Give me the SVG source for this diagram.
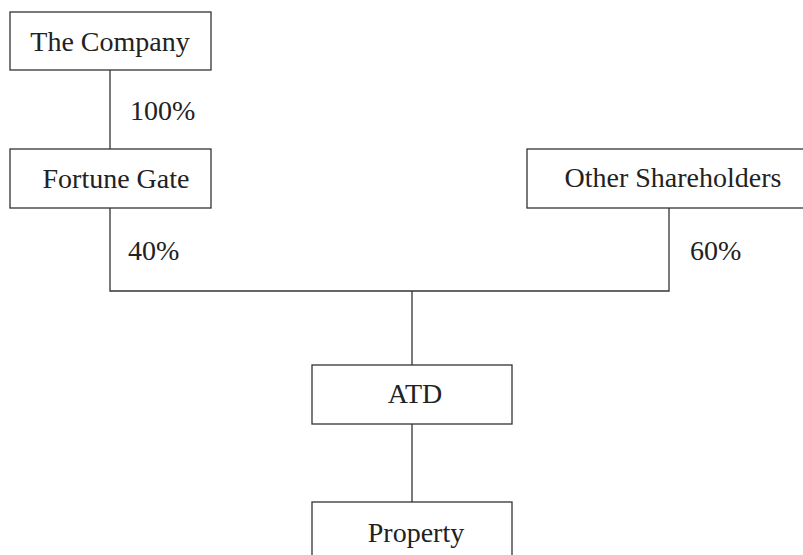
<svg xmlns="http://www.w3.org/2000/svg" width="803" height="555" viewBox="0 0 803 555">
<style>
.box{fill:#fff;stroke:#333;stroke-width:1.3}
.ln{fill:none;stroke:#333;stroke-width:1.3}
text{font-family:"Liberation Serif","Times New Roman",serif;font-size:28px;fill:#222}
.c{text-anchor:middle}
</style>
<rect width="803" height="555" fill="#fff"/>
<g id="connectors">
<line class="ln" x1="110" y1="70" x2="110" y2="149"/>
<polyline class="ln" points="110,208 110,291 669,291 669,208"/>
<line class="ln" x1="412" y1="291" x2="412" y2="365"/>
<line class="ln" x1="412" y1="424" x2="412" y2="502"/>
<text x="130" y="120">100%</text>
<text x="128" y="260">40%</text>
<text x="690" y="260">60%</text>
</g>
<g id="the-company">
<rect class="box" x="10" y="12" width="201" height="58"/>
<text class="c" x="110" y="51">The Company</text>
</g>
<g id="fortune-gate">
<rect class="box" x="10" y="149" width="201" height="59"/>
<text class="c" x="116" y="188">Fortune Gate</text>
</g>
<g id="other-shareholders">
<rect class="box" x="527" y="149" width="290" height="59"/>
<text class="c" x="673" y="187">Other Shareholders</text>
</g>
<g id="atd">
<rect class="box" x="312" y="365" width="200" height="59"/>
<text class="c" x="415" y="403">ATD</text>
</g>
<g id="property">
<rect class="box" x="312" y="502" width="200" height="70"/>
<text class="c" x="416" y="542">Property</text>
</g>
</svg>
